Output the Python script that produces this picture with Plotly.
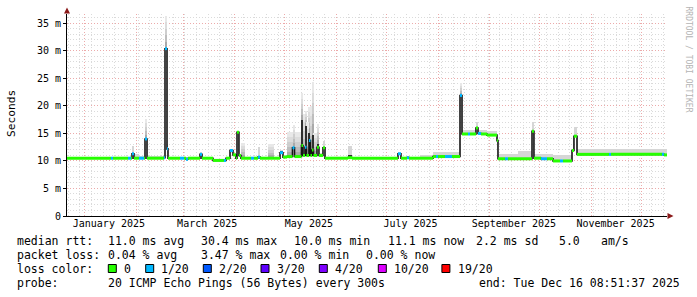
import plotly.graph_objects as go
import pandas as pd

# ---------------- data ----------------
axis_start = "2024-12-21 08:51:37"
axis_end = "2025-12-16 08:51:37"

seg_start = [
    "2024-12-21 08:51:37", "2025-01-16 18:00", "2025-01-17 23:00", "2025-01-26 23:00",
    "2025-01-28 18:00", "2025-01-29 09:00", "2025-01-30 13:00", "2025-02-02 13:00",
    "2025-02-05 13:00", "2025-02-06 04:00", "2025-02-07 09:00", "2025-02-17 13:00",
    "2025-02-18 04:00", "2025-02-19 09:00", "2025-02-19 23:00", "2025-02-27 04:00",
    "2025-03-01 13:00", "2025-03-02 18:00", "2025-03-03 23:00", "2025-03-11 04:00",
    "2025-03-12 09:00", "2025-03-18 23:00", "2025-03-25 13:00", "2025-03-26 18:00",
    "2025-03-29 04:00", "2025-03-30 23:00", "2025-04-01 18:00", "2025-04-02 09:00",
    "2025-04-03 13:00", "2025-04-04 18:00", "2025-04-07 04:00", "2025-04-10 18:00",
    "2025-04-12 13:00", "2025-04-14 23:00", "2025-04-16 04:00", "2025-04-20 23:00",
    "2025-04-24 13:00", "2025-04-28 04:00", "2025-04-29 23:00",
    "2025-05-02 09:00", "2025-05-05 16:00", "2025-05-06 21:00", "2025-05-11 01:00",
    "2025-05-11 23:00", "2025-05-13 04:00", "2025-05-14 01:00", "2025-05-15 13:00",
    "2025-05-16 11:00", "2025-05-17 09:00", "2025-05-18 06:00", "2025-05-20 09:00",
    "2025-05-21 13:00", "2025-05-23 23:00", "2025-05-25 04:00",
    "2025-06-07 23:00", "2025-06-10 09:00", "2025-07-07 23:00", "2025-07-09 18:00",
    "2025-07-13 09:00", "2025-07-14 13:00", "2025-07-21 04:00", "2025-07-28 23:00",
    "2025-07-30 18:00", "2025-07-31 23:00", "2025-08-05 04:00", "2025-08-09 09:00",
    "2025-08-14 04:00", "2025-08-15 09:00", "2025-08-18 23:00", "2025-08-20 04:00",
    "2025-08-23 18:00", "2025-08-24 23:00", "2025-08-26 18:00", "2025-08-30 09:00",
    "2025-09-05 09:00", "2025-09-05 23:00", "2025-09-10 04:00", "2025-09-11 23:00",
    "2025-09-17 23:00", "2025-09-26 09:00", "2025-09-27 13:00", "2025-10-01 18:00",
    "2025-10-05 09:00", "2025-10-08 23:00", "2025-10-13 04:00", "2025-10-14 23:00",
    "2025-10-20 09:00", "2025-10-21 13:00", "2025-10-23 09:00", "2025-11-11 13:00",
    "2025-11-12 18:00", "2025-12-13 09:00", "2025-12-14 13:00",
]
# median rtt (ms)
median_ms = [
    10.5, 10.5, 10.5, 10.5, 10.5, 11.3, 10.5, 10.5, 10.5, 14.0, 10.5, 10.6,
    30.4, 12.2, 10.5, 10.5, 10.5, 10.3, 10.5, 11.2, 10.5, 10.1, 10.1, 10.5,
    11.9, 11.1, 10.5, 15.2, 11.0, 10.5, 10.5, 10.5, 10.5, 10.7, 10.5, 10.5,
    10.5, 11.5, 10.7,
    10.8, 12.4, 10.8, 12.8, 11.0, 12.5, 11.0, 13.7, 11.0, 12.0, 11.0, 12.5,
    11.0, 12.4, 10.5,
    10.6, 10.5, 11.3, 10.5, 10.6, 10.5, 10.5, 10.8,
    10.8, 10.8, 10.8, 10.8, 21.9, 14.9, 14.9, 14.9, 16.0, 15.0, 14.9, 14.7,
    13.7, 10.4, 10.4, 10.4, 10.4, 15.4, 10.5, 10.4, 10.4, 10.0, 10.0, 10.0,
    11.9, 14.5, 11.2, 11.2, 11.2, 11.2, 11.1,
]
# top of the dense (dark) smoke (ms)
dark_ms = [
    10.5, 10.5, 10.5, 10.5, 10.5, 11.3, 10.5, 10.5, 10.5, 14.0, 10.5, 10.6,
    30.4, 12.2, 10.5, 10.5, 10.5, 10.3, 10.5, 11.2, 10.5, 10.1, 10.1, 10.5,
    11.9, 11.1, 10.5, 15.2, 11.0, 10.5, 10.5, 10.5, 10.5, 10.7, 10.5, 10.5,
    10.5, 11.8, 10.7,
    10.8, 12.4, 10.8, 17.4, 11.0, 16.4, 11.0, 15.0, 11.0, 14.8, 11.0, 13.1,
    11.0, 12.4, 10.5,
    11.0, 10.5, 11.3, 10.5, 10.6, 10.5, 10.5, 10.8,
    10.8, 10.8, 10.8, 10.8, 21.9, 14.9, 14.9, 14.9, 16.0, 15.0, 14.9, 14.7,
    13.7, 10.4, 10.4, 10.4, 10.4, 15.4, 10.5, 10.4, 10.4, 10.0, 10.0, 10.0,
    11.9, 14.5, 11.2, 11.2, 11.2, 11.2, 11.1,
]
# top of the smoke (max rtt, ms)
smoke_ms = [
    10.7, 10.7, 10.7, 10.8, 10.9, 12.8, 11.2, 10.9, 10.9, 17.7, 10.9, 10.9,
    36.4, 13.0, 10.7, 10.7, 10.7, 10.6, 10.7, 11.6, 10.7, 10.3, 10.3, 10.8,
    12.1, 11.5, 10.8, 15.4, 11.2, 13.2, 10.8, 10.8, 10.8, 12.6, 10.8, 13.0,
    10.8, 12.0, 11.0,
    15.2, 16.5, 15.2, 22.3, 18.5, 19.0, 17.0, 19.8, 20.0, 24.3, 15.0, 16.8,
    11.4, 13.7, 10.8,
    12.8, 10.7, 11.5, 10.7, 10.8, 10.7, 11.0, 11.6,
    11.6, 11.6, 11.6, 11.6, 24.1, 15.7, 15.7, 15.7, 17.0, 15.7, 15.7, 15.5,
    14.0, 11.2, 11.2, 11.2, 11.8, 17.0, 11.3, 11.3, 11.3, 11.0, 11.0, 11.0,
    12.2, 16.1, 12.2, 12.2, 12.2, 12.2, 12.2,
]
# lost pings out of 20 in each segment
loss_n = [
    0, 1, 0, 1, 0, 1, 0, 1, 0, 1, 0, 1,
    1, 1, 0, 1, 0, 1, 0, 1, 0, 0, 1, 0,
    1, 0, 0, 0, 0, 0, 0, 1, 0, 1, 0, 0,
    0, 1, 0,
    0, 1, 0, 0, 0, 1, 0, 1, 0, 0, 0, 0,
    0, 0, 0,
    0, 0, 1, 0, 1, 0, 0, 0,
    1, 0, 1, 0, 1, 0, 1, 0, 0, 1, 0, 0,
    0, 0, 1, 0, 0, 0, 0, 1, 0, 0, 1, 0,
    0, 0, 0, 1, 0, 1, 0,
]

loss_classes = [0, 1, 2, 3, 4, 10, 19]
loss_labels = ["0", "1/20", "2/20", "3/20", "4/20", "10/20", "19/20"]
loss_colors = ["#26ff00", "#00b8ff", "#0059ff", "#5e00ff", "#7e00ff", "#dd00ff", "#ff0000"]

y_tickvals = [0, 5, 10, 15, 20, 25, 30, 35]
y_ticktext = ["0", "5 m", "10 m", "15 m", "20 m", "25 m", "30 m", "35 m"]
x_labelvals = ["2025-01-15 12:00", "2025-03-15 12:00", "2025-05-15 12:00",
               "2025-07-15 12:00", "2025-09-15 12:00", "2025-11-15 12:00"]
x_labeltext = ["January 2025", "March 2025", "May 2025", "July 2025",
               "September 2025", "November 2025"]

stat_rows = [
    ["median rtt:", "11.0 ms avg", "30.4 ms max", "10.0 ms min", "11.1 ms now", "2.2 ms sd", "5.0", "am/s"],
    ["packet loss:", "0.04 % avg", "3.47 % max", "0.00 % min", "0.00 % now"],
    ["probe:", "20 ICMP Echo Pings (56 Bytes) every 300s", "end: Tue Dec 16 08:51:37 2025"],
]

# ---------------- layout helpers (pixel geometry) ----------------
W, H = 697, 297
L, R, T, B = 67, 30, 14, 81
PW, PH = W - L - R, H - T - B
FONT = "DejaVu Sans Mono"


def px(x):
    return (x - L) / PW


def py(y):
    return (H - B - y) / PH


t_end = pd.Timestamp(axis_end)
starts = [pd.Timestamp(s) for s in seg_start]
ends = starts[1:] + [t_end]
centers = [s + (e - s) / 2 for s, e in zip(starts, ends)]
widths = [(e - s).total_seconds() * 1000 for s, e in zip(starts, ends)]

fig = go.Figure()

# smoke: light part (graded for tall spreads, flat grey for thin ones)
band_cols = ["#a9a9a9", "#bdbdbd", "#cecece", "#dcdcdc", "#e8e8e8"]
nb = len(band_cols)
for k, col in enumerate(band_cols):
    base, hgt = [], []
    for d, s in zip(dark_ms, smoke_ms):
        sp = s - d
        if sp > 2.0:
            base.append(d + sp * k / nb)
            hgt.append(sp / nb)
        else:
            base.append(d)
            hgt.append(0)
    fig.add_bar(x=centers, y=hgt, base=base, width=widths,
                marker=dict(color=col, line_width=0), hoverinfo="skip", showlegend=False)

base, hgt = [], []
for d, s in zip(dark_ms, smoke_ms):
    base.append(d)
    hgt.append(s - d if s - d <= 2.0 else 0)
fig.add_bar(x=centers, y=hgt, base=base, width=widths,
            marker=dict(color="#d6d6d6", line_width=0), hoverinfo="skip", showlegend=False)

# smoke: dense part
fig.add_bar(x=centers, y=[d - m for m, d in zip(median_ms, dark_ms)], base=median_ms,
            width=widths, marker=dict(color="#2e2e2e", line_width=0),
            hoverinfo="skip", showlegend=False)

# median line (dark) with steps
fig.add_scatter(x=starts + [t_end], y=median_ms + [median_ms[-1]], mode="lines",
                line=dict(color="#141414", width=1.6, shape="hv"),
                hoverinfo="skip", showlegend=False)

# median coloured by loss
for cls, col in zip(loss_classes, loss_colors):
    xs, ys = [], []
    for s, e, m, n in zip(starts, ends, median_ms, loss_n):
        if n == cls:
            xs += [s, e, None]
            ys += [m, m, None]
    if xs:
        fig.add_scatter(x=xs, y=ys, mode="lines", line=dict(color=col, width=3),
                        hoverinfo="skip", showlegend=False)

# dummy trace for the label axis
fig.add_scatter(x=[axis_start, axis_end], y=[0, 0], xaxis="x2", mode="lines",
                line=dict(width=0), hoverinfo="skip", showlegend=False)

grid_major = "rgb(236,170,170)"
grid_minor = "rgb(218,218,218)"

fig.update_layout(
    width=W, height=H,
    margin=dict(l=L, r=R, t=T, b=B, pad=0),
    paper_bgcolor="white", plot_bgcolor="white",
    barmode="overlay", bargap=0,
    showlegend=False,
    font=dict(family=FONT, size=10, color="black"),
    xaxis=dict(
        type="date", range=[axis_start, axis_end],
        dtick="M1", tick0="2025-01-01",
        showticklabels=False, ticks="",
        showgrid=True, gridcolor=grid_major, gridwidth=1, griddash="1px,2px",
        minor=dict(dtick=7 * 24 * 3600 * 1000, tick0="2024-12-22",
                   showgrid=True, gridcolor=grid_minor, gridwidth=1, griddash="1px,2px"),
        showline=True, linecolor="black", linewidth=1,
        zeroline=False,
    ),
    xaxis2=dict(
        type="date", overlaying="x", matches="x", range=[axis_start, axis_end], side="bottom",
        tickmode="array", tickvals=x_labelvals, ticktext=x_labeltext,
        showgrid=False, ticks="", showline=False, zeroline=False,
        tickfont=dict(family=FONT, size=10, color="black"),
    ),
    yaxis=dict(
        range=[0, 36.7],
        tickmode="array", tickvals=y_tickvals, ticktext=y_ticktext,
        ticks="outside", ticklen=3, tickcolor="black",
        tickfont=dict(family=FONT, size=10, color="black"),
        showgrid=True, gridcolor=grid_major, gridwidth=1, griddash="1px,2px",
        minor=dict(dtick=1, showgrid=True, gridcolor=grid_minor, gridwidth=1, griddash="1px,2px"),
        showline=True, linecolor="black", linewidth=1,
        zeroline=False,
    ),
)

shapes = []
# axis arrows
arrow_col = "#8b1a1a"
shapes.append(dict(type="path", xref="paper", yref="paper",
                   path=f"M {px(64)} {py(13.5)} L {px(70)} {py(13.5)} L {px(67)} {py(7.5)} Z",
                   fillcolor=arrow_col, line=dict(width=0)))
shapes.append(dict(type="path", xref="paper", yref="paper",
                   path=f"M {px(667.5)} {py(213)} L {px(667.5)} {py(219)} L {px(673.5)} {py(216)} Z",
                   fillcolor=arrow_col, line=dict(width=0)))

annotations = []
# y title
annotations.append(dict(text="Seconds", x=px(11), y=py(114), xref="paper", yref="paper",
                        xanchor="center", yanchor="middle",
                        showarrow=False, textangle=-90, font=dict(family=FONT, size=11.2)))
# right credit
annotations.append(dict(text="RRDTOOL / TOBI OETIKER", x=px(687.5), y=py(59), xref="paper",
                        yref="paper", xanchor="center", yanchor="middle",
                        showarrow=False, textangle=90,
                        font=dict(family=FONT, size=8, color="#b4b4b4")))

LEG = 11.5
row_y = [241.3, 255.3, 283.3]
row_x = [
    [16, 107.3, 200, 293.3, 386.7, 475, 558, 600],
    [16, 107.3, 200, 279.3, 365],
    [16, 107.3, 478.3],
]
for texts, xs, yy in zip(stat_rows, row_x, row_y):
    for t, xx in zip(texts, xs):
        annotations.append(dict(text=t, x=px(xx - 1), y=py(yy), xref="paper", yref="paper",
                                xanchor="left", yanchor="middle", showarrow=False,
                                font=dict(family=FONT, size=LEG, color="black")))

# loss colour legend row
annotations.append(dict(text="loss color:", x=px(15), y=py(269.3), xref="paper", yref="paper",
                        xanchor="left", yanchor="middle", showarrow=False,
                        font=dict(family=FONT, size=LEG, color="black")))
box_x = [108.3, 145.7, 203.3, 261.0, 319.3, 378.3, 441.9]
lab_x = [123.3, 160.0, 218.3, 276.0, 334.3, 392.7, 457.3]
for bx, lx, lab, col in zip(box_x, lab_x, loss_labels, loss_colors):
    shapes.append(dict(type="rect", xref="paper", yref="paper",
                       x0=px(bx), x1=px(bx + 8), y0=py(272.5), y1=py(264.5),
                       fillcolor=col, line=dict(color="black", width=1)))
    annotations.append(dict(text=lab, x=px(lx - 1), y=py(269.3), xref="paper", yref="paper",
                            xanchor="left", yanchor="middle", showarrow=False,
                            font=dict(family=FONT, size=LEG, color="black")))

fig.update_layout(shapes=shapes, annotations=annotations)
fig.write_html("out.html")
